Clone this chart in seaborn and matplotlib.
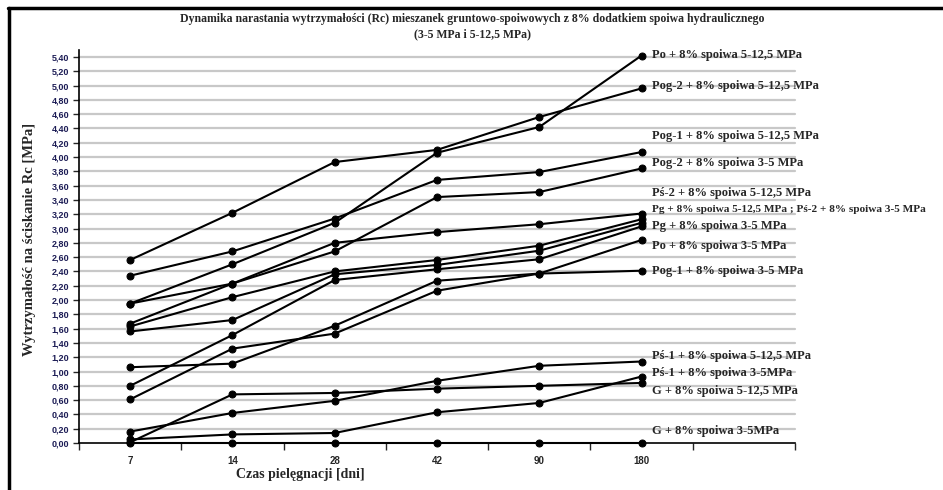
import pandas as pd
import numpy as np
import seaborn as sns
import matplotlib.pyplot as plt
from matplotlib.lines import Line2D
from matplotlib.ticker import FixedLocator, FuncFormatter

# czas pielegnacji [dni]
dni = [7, 14, 28, 42, 90, 180]

# Rc [MPa] for each mixture
pog2_512 = [2.56, 3.22, 3.93, 4.10, 4.56, 4.96]
po_512 = [1.95, 2.50, 3.08, 4.06, 4.42, 5.42]
pog1_512 = [2.34, 2.68, 3.14, 3.68, 3.79, 4.07]
pog2_35 = [1.67, 2.23, 2.68, 3.44, 3.51, 3.84]
ps2_512 = [1.95, 2.23, 2.80, 2.95, 3.06, 3.21]
pg_512 = [1.63, 2.04, 2.40, 2.56, 2.76, 3.13]
ps2_35 = [1.56, 1.72, 2.36, 2.49, 2.69, 3.08]
pg_35 = [0.80, 1.51, 2.28, 2.43, 2.57, 3.03]
po_35 = [1.06, 1.11, 1.64, 2.27, 2.37, 2.84]
pog1_35 = [0.61, 1.32, 1.53, 2.13, 2.37, 2.41]
ps1_512 = [0.16, 0.42, 0.59, 0.87, 1.08, 1.14]
ps1_35 = [0.05, 0.12, 0.14, 0.43, 0.56, 0.93]
g_512 = [0.01, 0.68, 0.70, 0.76, 0.80, 0.84]
g_35 = [0.00, 0.00, 0.00, 0.00, 0.00, 0.00]

serie = {
    "Pog-2 5-12,5": pog2_512, "Po 5-12,5": po_512, "Pog-1 5-12,5": pog1_512,
    "Pog-2 3-5": pog2_35, "Pś-2 5-12,5": ps2_512, "Pg 5-12,5": pg_512,
    "Pś-2 3-5": ps2_35, "Pg 3-5": pg_35, "Po 3-5": po_35, "Pog-1 3-5": pog1_35,
    "Pś-1 5-12,5": ps1_512, "Pś-1 3-5": ps1_35, "G 5-12,5": g_512, "G 3-5": g_35,
}

# labels written at the right end of the lines
etykiety = [
    "Po + 8% spoiwa 5-12,5 MPa",
    "Pog-2 + 8% spoiwa 5-12,5 MPa",
    "Pog-1 + 8% spoiwa 5-12,5 MPa",
    "Pog-2 + 8% spoiwa 3-5 MPa",
    "Pś-2 + 8% spoiwa 5-12,5 MPa",
    "Pg + 8% spoiwa 5-12,5 MPa ; Pś-2 + 8% spoiwa 3-5 MPa",
    "Pg + 8% spoiwa 3-5 MPa",
    "Po + 8% spoiwa 3-5 MPa",
    "Pog-1 + 8% spoiwa 3-5 MPa",
    "Pś-1 + 8% spoiwa 5-12,5 MPa",
    "Pś-1 + 8% spoiwa 3-5MPa",
    "G + 8% spoiwa 5-12,5 MPa",
    "G + 8% spoiwa 3-5MPa",
]
etykiety_y = [5.43, 4.99, 4.29, 3.92, 3.50, 3.27, 3.03, 2.76, 2.41, 1.22, 0.98, 0.73, 0.17]

rows = []
for name, vals in serie.items():
    for i, v in enumerate(vals):
        rows.append({"seria": name, "pos": i, "Rc": v})
df = pd.DataFrame(rows)

sns.set_style("white")
plt.rcParams['font.family'] = ['Liberation Serif', 'DejaVu Serif']

W, H = 943, 490
fig = plt.figure(figsize=(W / 100, H / 100), dpi=100)
ax = fig.add_axes([79 / W, 1 - 443 / H, (795 - 79) / W, (443 - 49.8) / H])

# grid first so it stays under the lines
for g in np.arange(0.2, 5.41, 0.2):
    ax.axhline(g, color='#c8c8c8', lw=1.6, zorder=0)

sns.lineplot(data=df, x="pos", y="Rc", units="seria", estimator=None, sort=False,
             color="black", lw=1.5, marker="o", markersize=5,
             markeredgecolor="black", legend=False, ax=ax)
for ln in ax.lines:
    ln.set_clip_on(False)

ax.set_xlim(-0.5, 6.5)
ax.set_ylim(0, 5.5)
ax.set_xlabel("")
ax.set_ylabel("")

ax.yaxis.set_major_locator(FixedLocator(np.round(np.arange(0, 5.41, 0.2), 2)))
ax.yaxis.set_major_formatter(FuncFormatter(lambda v, p: f"{v:.2f}".replace(".", ",")))
ax.tick_params(axis='y', direction='out', length=4, width=1, left=True, pad=3,
               labelsize=6.5, labelcolor='#1c1c55')
for t in ax.get_yticklabels():
    t.set_family('Liberation Sans')
    t.set_weight('bold')

ax.xaxis.set_major_locator(FixedLocator(np.arange(-0.5, 6.6, 1)))
ax.xaxis.set_major_formatter(FuncFormatter(lambda v, p: ""))
ax.xaxis.set_minor_locator(FixedLocator(range(len(dni))))
ax.xaxis.set_minor_formatter(FuncFormatter(lambda v, p: str(dni[int(round(v))])))
ax.tick_params(axis='x', which='major', direction='out', length=5, width=1, bottom=True)
ax.tick_params(axis='x', which='minor', length=0, pad=9, labelsize=7)
for t in ax.xaxis.get_minorticklabels():
    t.set_family('Liberation Sans')
    t.set_weight('bold')

for s in ['top', 'right']:
    ax.spines[s].set_visible(False)
for s in ['left', 'bottom']:
    ax.spines[s].set_color('black')
    ax.spines[s].set_linewidth(1.2)

for txt, y in zip(etykiety, etykiety_y):
    fs = 8.1 if ";" in txt else 9
    ax.text(5.1, y, txt, va='center', ha='left', fontsize=fs, weight='bold',
            clip_on=False)

fig.text(472 / W, 1 - 19 / H,
         "Dynamika narastania wytrzymałości (Rc) mieszanek gruntowo-spoiwowych z 8% dodatkiem spoiwa hydraulicznego",
         ha='center', va='center', fontsize=8.5, weight='bold')
fig.text(472 / W, 1 - 34 / H, "(3-5 MPa i 5-12,5 MPa)",
         ha='center', va='center', fontsize=8.5, weight='bold')
fig.text(30 / W, 1 - 239 / H, "Wytrzymałość na ściskanie Rc [MPa]", rotation=90,
         ha='center', va='center', fontsize=10.5, weight='bold')
fig.text(300 / W, 1 - 474 / H, "Czas pielęgnacji [dni]",
         ha='center', va='center', fontsize=10, weight='bold')

# outer frame (top and left)
fig.add_artist(Line2D([8 / W, 1], [1 - 8 / H, 1 - 8 / H], color='black', lw=2.5,
                      transform=fig.transFigure))
fig.add_artist(Line2D([9 / W, 9 / W], [0, 1 - 8 / H], color='black', lw=2.5,
                      transform=fig.transFigure))

fig.savefig("out.png", dpi=100)
